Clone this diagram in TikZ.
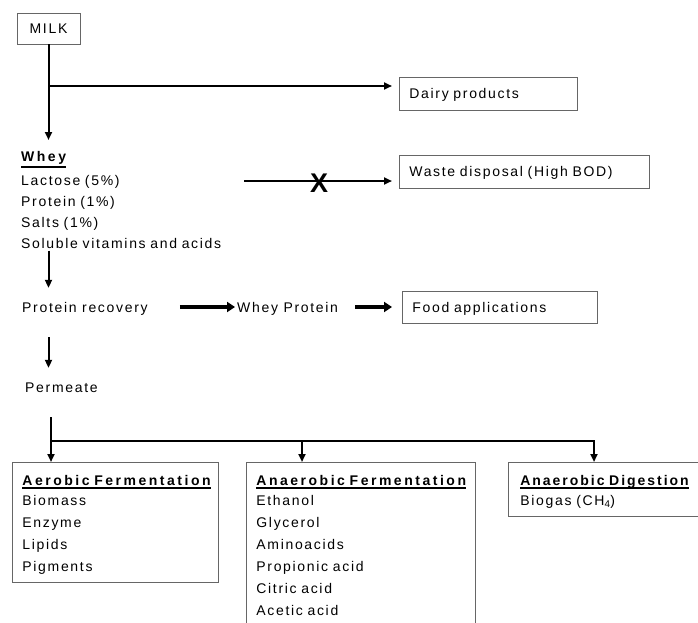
\documentclass[tikz,border=0pt]{standalone}
\usepackage{fontspec}
\setmainfont{Liberation Sans}[LetterSpace=12]
\usepackage{tikz}
\usetikzlibrary{arrows.meta}
\newcommand{\hd}[3][-4pt]{\setbox0\hbox{\bfseries\addfontfeature{LetterSpace=#2}#3}\rlap{\rule[#1]{\wd0}{2pt}}\box0}

\begin{document}
\begin{tikzpicture}[x=1pt,y=-1pt,font=\fontsize{14}{22}\selectfont,
  box/.style={draw=black!60,line width=0.8pt},
  tag/.style={box,anchor=west,align=left,inner xsep=10pt,inner ysep=0pt,text height=10pt,text depth=0pt,minimum height=33pt},
  panel/.style={box,anchor=north west,align=left,inner xsep=10pt,inner ysep=13pt,text height=10pt},
  txt/.style={anchor=west,inner sep=0pt,text height=10pt,text depth=0pt},
  link/.style={line width=2pt},
  flow/.style={link,-{Triangle[length=8pt,width=7pt]}},
  fat/.style={line width=4pt,-{Triangle[length=8pt,width=10pt]}}]
  \useasboundingbox (0,0) rectangle (698,623);
  \node[box,minimum width=63pt,minimum height=31pt,inner sep=0pt,text height=10pt,text depth=0pt] (milk) at (48.5,28.5) {MILK};
  \node[tag,text width=158pt] (dairy) at (399,94) {Dairy products};
  \node[anchor=north west,inner sep=0pt,text height=10pt,text width=230pt,align=left,font=\fontsize{14}{21}\selectfont] (whey) at (21,151) {\hd[-7pt]{18}{Whey}\\[3pt]Lactose (5\%)\\Protein (1\%)\\Salts (1\%)\\Soluble vitamins and acids};
  \node[tag,text width=230pt] (waste) at (399,171.5) {Waste disposal (High BOD)};
  \node[txt] (protrec) at (22,307) {Protein recovery};
  \node[txt] (wprot) at (237,307) {Whey Protein};
  \node[tag,text width=175pt,minimum height=32pt] (food) at (402,307) {Food applications};
  \node[txt] (permeate) at (25,387) {Permeate};
  \node[panel,text width=186pt,text depth=84pt] (aerobic) at (12,462) {\hd{18}{Aerobic Fermentation}\\[-2pt]Biomass\\Enzyme\\Lipids\\Pigments};
  \node[panel,text width=209pt,text depth=140pt] (anferm) at (246,462) {\hd{18}{Anaerobic Fermentation}\\[-2pt]Ethanol\\Glycerol\\Aminoacids\\Propionic acid\\Citric acid\\Acetic acid};
  \node[panel,inner xsep=12pt,text width=200pt,text depth=18pt] (andig) at (508,462) {\hd{14}{Anaerobic Digestion}\\[-2pt]Biogas (CH\textsubscript{4})};

  \coordinate (split) at (48.5,86);
  \draw[flow,shorten >=11pt] (milk.south) -- (milk.south |- whey.north);
  \draw[flow,shorten >=7pt] (split) -- (split -| dairy.west);
  \coordinate (drain) at (244,181);
  \draw[flow,shorten >=7pt] (drain) -- (drain -| waste.west);
  \node[font=\fontsize{27}{27}\selectfont\bfseries,inner sep=0pt] (block) at (319,183) {X};
  \draw[flow,shorten <=2pt,shorten >=14pt] (milk.south |- whey.south) -- (milk.south |- protrec.north);
  \draw[fat,shorten <=32pt,shorten >=2pt] (protrec.east) -- (wprot.west);
  \draw[fat,shorten <=17pt,shorten >=10pt] (wprot.east) -- (food.west);
  \draw[flow,shorten <=25pt,shorten >=14pt] (milk.south |- protrec.south) -- (milk.south |- permeate.north);
  \coordinate (bus) at (51,441);
  \coordinate (busmid) at (302,441);
  \coordinate (busend) at (594,441);
  \draw[flow,shorten <=25pt] (bus |- permeate.south) -- (bus) -- (bus |- aerobic.north);
  \draw[flow] (bus) -- (busend) -- (busend |- andig.north);
  \draw[flow] (busmid) -- (busmid |- anferm.north);
\end{tikzpicture}
\end{document}
